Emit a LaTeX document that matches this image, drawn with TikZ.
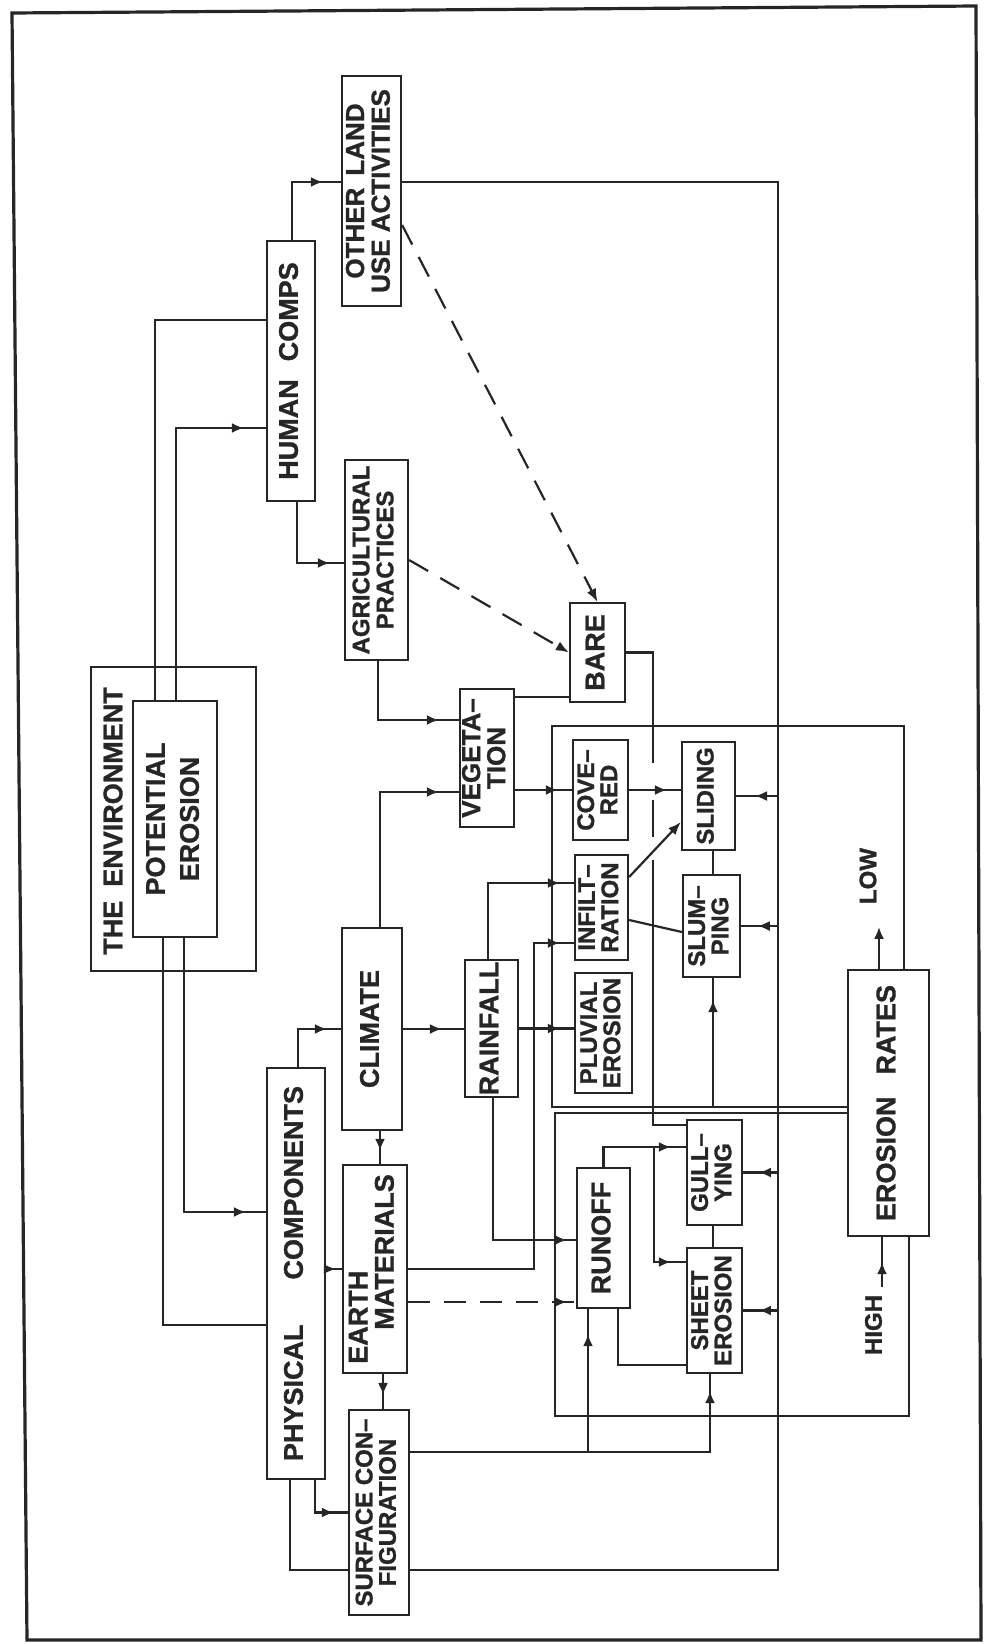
\documentclass[tikz,border=0pt]{standalone}
\usepackage{graphicx}
\usepackage{fontspec}
\setmainfont{Liberation Sans}[FakeBold=1.2]
\usetikzlibrary{arrows.meta,decorations.markings}
\newcommand{\rt}[2][c]{\rotatebox{90}{\begin{tabular}{@{}#1@{}}#2\end{tabular}}}
\begin{document}
\begin{tikzpicture}[x=1pt,y=-1pt,line width=2.2pt,draw=black!85,text=black!85,
  box/.style={draw,inner sep=0pt,line width=2.2pt,font=\bfseries},
  L/.style={font=\fontsize{27}{34}\selectfont\bfseries},
  S/.style={font=\fontsize{24}{22}\selectfont\bfseries},
  mar/.style={postaction={decorate},decoration={markings,mark=at position #1 with {\arrow{Latex[length=12pt,width=10pt]}}}},
  mar/.default=-14pt,
  dsh/.style={dash pattern=on 22pt off 14pt}]
\useasboundingbox (0,0) rectangle (985,1644);
\draw[line width=3.2pt] (12,13) -- (976,6) -- (981,1640) -- (27,1640) -- cycle;

% nodes
\node[box,minimum width=165pt,minimum height=304pt] (env) at (173.5,819) {};
\node[L,rotate=90] (envt) at (113,821) {THE\hspace{14pt}ENVIRONMENT};
\node[box,L,minimum width=84pt,minimum height=236pt] (pot) at (175,819) {\rt{POTENTIAL\\EROSION}};
\node[box,L,minimum width=48pt,minimum height=260pt] (human) at (291,371) {\rt{HUMAN\hspace{18pt}COMPS}};
\node[box,font=\fontsize{26}{25}\selectfont\bfseries,minimum width=59pt,minimum height=230pt] (other) at (371.5,191) {\rt{OTHER\hspace{12pt}LAND\\USE ACTIVITIES}};
\node[box,font=\fontsize{24}{24}\selectfont\bfseries,minimum width=63pt,minimum height=200pt] (agri) at (376.5,560) {\rt{AGRICULTURAL\\PRACTICES}};
\node[box,font=\fontsize{26}{23}\selectfont\bfseries,minimum width=54pt,minimum height=138pt] (veg) at (487,758) {\rt{VEGETA--\\TION}};
\node[box,L,minimum width=55pt,minimum height=99pt] (bare) at (597.5,652.5) {\rt{BARE}};
\node[box,S,minimum width=55pt,minimum height=100pt] (covered) at (600.5,790) {\rt{COVE--\\RED}};
\node[box,S,minimum width=53pt,minimum height=108pt] (sliding) at (708.5,796) {\rt{SLIDING}};
\node[box,S,minimum width=53pt,minimum height=105pt] (infilt) at (601.5,907.5) {\rt{INFILT--\\RATION}};
\node[box,S,minimum width=57pt,minimum height=102pt] (slumping) at (711.5,926) {\rt{SLUM--\\PING}};
\node[box,S,minimum width=57pt,minimum height=120pt] (pluvial) at (603.5,1033) {\rt{PLUVIAL\\EROSION}};
\node[box,L,minimum width=60pt,minimum height=202pt] (climate) at (372,1029) {\rt{CLIMATE}};
\node[box,L,minimum width=53pt,minimum height=137pt] (rainfall) at (491.5,1028.5) {\rt{RAINFALL}};
\node[box,L,minimum width=58pt,minimum height=411pt] (physical) at (296,1273.5) {\rt{PHYSICAL\hspace{45pt}COMPONENTS}};
\node[box,font=\fontsize{27}{25}\selectfont\bfseries,minimum width=64pt,minimum height=208pt] (earth) at (375,1269) {\rt[l]{EARTH\\\hspace{34pt}MATERIALS}};
\node[box,S,minimum width=60pt,minimum height=205pt] (surface) at (379,1512.5) {\rt{SURFACE CON--\\FIGURATION}};
\node[box,L,minimum width=53pt,minimum height=140pt] (runoff) at (603.5,1238) {\rt{RUNOFF}};
\node[box,S,minimum width=55pt,minimum height=105pt] (gully) at (714.5,1172.5) {\rt{GULL--\\YING}};
\node[box,S,minimum width=55pt,minimum height=125pt] (sheet) at (714.5,1310.5) {\rt{SHEET\\EROSION}};
\node[box,L,minimum width=81pt,minimum height=266pt] (rates) at (888.5,1103) {\rt{EROSION\hspace{22pt}RATES}};

% environment links
\draw ([xshift=-20pt]pot.north) |- ([yshift=51pt]human.west);
\draw[mar=-22pt] ([xshift=1pt]pot.north) |- ([yshift=-57pt]human.west);
\draw ([xshift=-12pt]pot.south) |- ([yshift=-51.5pt]physical.west);
\draw[mar=-20pt] ([xshift=9pt]pot.south) |- ([yshift=61.5pt]physical.west);

% human side
\draw[mar=-18pt] ([xshift=1pt]human.north) |- ([yshift=9pt]other.west);
\draw[mar] ([xshift=6pt]human.south) |- ([yshift=-3pt]agri.west);
\draw[mar=-20pt] ([xshift=1.5pt]agri.south) |- ([yshift=38pt]veg.west);
\draw[mar=-20pt] ([xshift=8pt]climate.north) |- ([yshift=-34pt]veg.west);
\draw ([yshift=61pt]veg.east) -- ([yshift=-44.5pt]bare.west);
\draw[mar] ([yshift=-32pt]veg.east) -- (covered.west);
\draw[dsh,-{Latex[length=13pt,width=10pt]}] (agri.east) -- (bare.west);
\draw[dsh,-{Latex[length=13pt,width=10pt]}] ([yshift=-34pt]other.east) -- (bare.north);

% bare to gullying with line hops
\draw (bare.east) -- ++(27,0) |- ([yshift=47.5pt]gully.west);
\coordinate (bx) at ([xshift=27pt]bare.east);
\draw[white,line width=5pt] ([yshift=-110pt]bx) -- ([yshift=-147pt]bx);
\draw[white,line width=5pt] ([yshift=-184pt]bx) -- ([yshift=-207pt]bx);

% process regions
\draw ([xshift=15.5pt]rates.north) -- ++(0,-243) -- ++(-352,0) |- ([yshift=-4pt]rates.west);
\draw ([yshift=-10pt]rates.west) -- ++(-292,0) -- ++(0,303) -| ([xshift=20.5pt]rates.south);
\draw[mar] (covered.east) -- (covered.east -| sliding.west);
\draw[-{Latex[length=13pt,width=10pt]}] ([yshift=30.5pt]infilt.east) -- ([yshift=-26pt]sliding.west);
\draw ([yshift=-12.5pt]infilt.east) -- ([yshift=-6pt]slumping.west);
\draw ([xshift=4.5pt]sliding.south) -- ([xshift=1.5pt]slumping.north);
\draw[mar=-22pt] ([xshift=1.5pt,yshift=-130pt]slumping.south) -- ([xshift=1.5pt]slumping.south);

% big feedback line
\draw ([yshift=9pt]other.east) -- ++(376,0) |- ([yshift=-57.5pt]surface.east);
\coordinate (bl) at ([xshift=376pt,yshift=9pt]other.east);
\draw[mar=0.55] (bl |- sliding.east) -- (sliding.east);
\draw[mar=0.55] (bl |- slumping.east) -- (slumping.east);
\draw[mar=0.55] (bl |- gully.east) -- (gully.east);
\draw[mar=0.55] (bl |- sheet.east) -- (sheet.east);

% physical side
\draw[mar] ([xshift=2pt]physical.north) |- (climate.west);
\draw[mar=-22pt] (climate.east) -- (climate.east -| rainfall.west);
\draw[mar] (rainfall.east) -- (rainfall.east -| pluvial.west);
\draw[mar] ([xshift=-3.5pt]rainfall.north) |- ([yshift=24.5pt]infilt.west);
\draw[mar] (earth.east) -- ++(126,0) |- ([yshift=-35.5pt]infilt.west);
\draw[dsh,mar=-9pt] ([yshift=-33pt]earth.east) -- ([yshift=-64pt]runoff.west);
\draw[mar=0.6] ([xshift=8pt]climate.south) -- ([xshift=5pt]earth.north);
\draw[mar=0.6] ([xshift=8pt]earth.south) -- ([xshift=4pt]surface.north);
\draw[mar=-6pt] (earth.west -| physical.east) -- (earth.west);
\draw[mar] ([xshift=19pt]physical.south) |- (surface.west);
\draw ([xshift=-6pt]physical.south) |- ([yshift=-57.5pt]surface.west);
\draw[mar=-9pt] ([xshift=1.5pt]rainfall.south) |- ([yshift=-2pt]runoff.west);

% surface to runoff / sheet
\draw[mar=-17pt] ([yshift=60.5pt]surface.east) -| ([xshift=-4.5pt]sheet.south);
\draw[mar=-25pt] ([yshift=60.5pt]surface.east) -| ([xshift=-15.5pt]runoff.south);

% runoff to gullying / sheet
\draw[mar=-15pt] (runoff.north) |- ([yshift=25.5pt]gully.west);
\draw[mar=-15pt] ([xshift=-32pt,yshift=25.5pt]gully.west) |- ([yshift=48.5pt]sheet.west);
\draw ([xshift=14.5pt]runoff.south) |- ([yshift=-54.5pt]sheet.west);
\draw ([xshift=-1.5pt]gully.south) -- ([xshift=-1.5pt]sheet.north);

% erosion rates scale
\draw[-{Latex[length=12pt,width=10pt]}] ([xshift=-9.5pt]rates.north) -- ++(0,-42);
\node[S,rotate=90] (low) at ([xshift=-20.5pt,yshift=227pt]rates.center) {LOW};
\draw[mar=0.5] ([xshift=-6.5pt,yshift=-50pt]rates.south) -- ([xshift=-6.5pt]rates.south);
\node[S,rotate=90] (high) at ([xshift=-15pt,yshift=-222pt]rates.center) {HIGH};
\end{tikzpicture}
\end{document}
